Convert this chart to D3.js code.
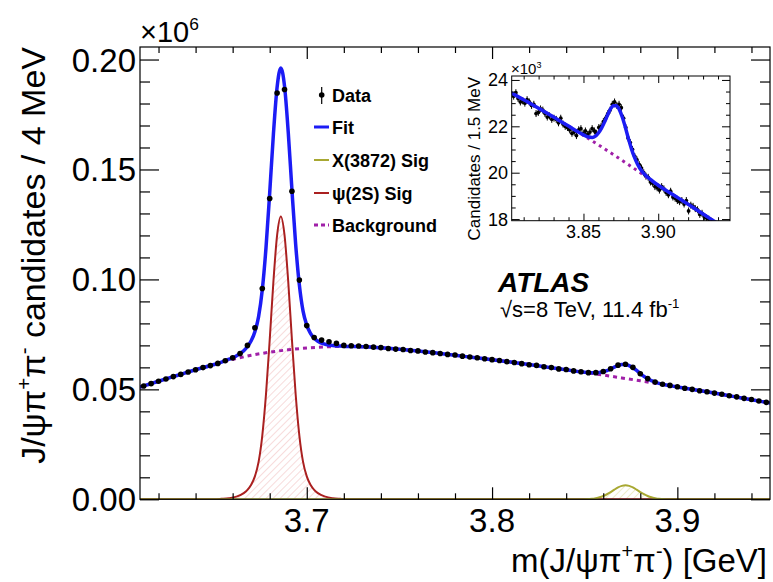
<!DOCTYPE html>
<html>
<head>
<meta charset="utf-8">
<script src="https://cdn.jsdelivr.net/npm/d3@7"></script>
<style>
body { margin: 0; background: #fff; }
text { font-family: "Liberation Sans", Arial, Helvetica, sans-serif; fill: #000; }
</style>
</head>
<body>
<svg id="chart" width="773" height="582"></svg>
<script>
// ---- main plot: J/psi pi pi mass, 4 MeV bins, counts in units of 10^6
var binStart = 3.612, binWidth = 0.004;
var dataVals = [
  0.0515,0.0526,0.0537,0.0547,0.0558,0.0568,0.0579,0.0589,0.0599,0.0608,
  0.0618,0.0630,0.0644,0.0663,0.0700,0.0780,0.0959,0.1368,0.1848,0.1864,
  0.1401,0.0997,0.0790,0.0736,0.0724,0.0716,0.0709,0.0700,0.0698,0.0697,
  0.0695,0.0692,0.0690,0.0686,0.0683,0.0681,0.0677,0.0675,0.0670,0.0667,
  0.0663,0.0659,0.0656,0.0651,0.0647,0.0644,0.0639,0.0635,0.0631,0.0626,
  0.0622,0.0617,0.0612,0.0609,0.0603,0.0599,0.0593,0.0590,0.0584,0.0580,
  0.0576,0.0576,0.0581,0.0594,0.0610,0.0614,0.0600,0.0571,0.0549,0.0533,
  0.0523,0.0518,0.0512,0.0505,0.0500,0.0494,0.0489,0.0483,0.0478,0.0471,
  0.0466,0.0459,0.0454,0.0447,0.0441
];
var fitX = [3.61,3.62,3.63,3.64,3.65,3.654,3.658,3.662,3.666,
  3.668,3.670,3.672,3.674,3.676,3.678,3.680,3.682,3.684,3.686,3.688,3.690,3.692,3.694,3.696,3.698,3.700,3.702,3.704,3.706,
  3.710,3.714,3.718,3.722,
  3.73,3.74,3.75,3.76,3.77,3.78,3.79,3.80,3.81,3.82,3.83,3.84,
  3.848,3.852,
  3.854,3.856,3.858,3.860,3.862,3.864,3.866,3.868,3.870,3.872,3.874,3.876,3.878,3.880,3.882,3.884,3.886,3.888,3.890,3.892,
  3.896,3.90,3.91,3.92,3.93,3.94,3.95];
var fitY = [0.0510,0.0537,0.0563,0.0589,0.0613,0.0624,0.0637,0.0652,0.0676,
  0.0695,0.0721,0.0762,0.0831,0.0953,0.1144,0.1394,0.1661,0.1875,0.1962,0.1879,0.1670,0.1407,0.1161,0.0975,0.0856,0.0792,0.0755,0.0733,0.0719,
  0.0705,0.0699,0.0697,0.0695,
  0.0694,0.0689,0.0682,0.0674,0.0665,0.0655,0.0645,0.0635,0.0624,0.0613,0.0601,0.0589,
  0.0579,0.0576,
  0.0575,0.0575,0.0577,0.0580,0.0585,0.0593,0.0601,0.0609,0.0613,0.0613,0.0608,0.0598,0.0586,0.0572,0.0559,0.0548,0.0540,0.0533,0.0527,0.0523,
  0.0517,0.0511,0.0497,0.0483,0.0468,0.0453,0.0438];
var bgX = [3.61,3.62,3.63,3.64,3.65,3.66,3.67,3.68,3.69,3.70,3.71,3.72,3.73,3.74,3.75,3.76,3.77,3.78,
  3.79,3.80,3.81,3.82,3.83,3.84,3.85,3.86,3.87,3.88,3.89,3.90,3.91,3.92,3.93,3.94,3.95];
var bgY = [0.0510,0.0537,0.0563,0.0589,0.0613,0.0636,0.0655,0.0669,0.0680,0.0688,0.0693,0.0695,0.0694,0.0689,0.0682,0.0674,0.0665,0.0655,
  0.0645,0.0635,0.0624,0.0613,0.0601,0.0589,0.0577,0.0565,0.0552,0.0539,0.0525,0.0511,0.0497,0.0483,0.0468,0.0453,0.0438];
var psiX = [3.61,3.650,3.654,3.658,3.662,3.666,
  3.668,3.670,3.672,3.674,3.676,3.678,3.680,3.682,3.684,3.686,3.688,3.690,3.692,3.694,3.696,3.698,3.700,3.702,3.704,3.706,
  3.710,3.714,3.718,3.722,3.95];
var psiY = [0,0.0000,0.0002,0.0005,0.0012,0.0028,
  0.0043,0.0066,0.0104,0.0170,0.0290,0.0478,0.0725,0.0990,0.1201,0.1286,0.1201,0.0990,0.0725,0.0478,0.0290,0.0170,0.0104,0.0066,0.0043,0.0028,
  0.0012,0.0005,0.0002,0.0000,0];
var x3872X = [3.61,3.848,3.852,
  3.854,3.856,3.858,3.860,3.862,3.864,3.866,3.868,3.870,3.872,3.874,3.876,3.878,3.880,3.882,3.884,3.886,3.888,3.890,3.892,
  3.896,3.95];
var x3872Y = [0,0.0000,0.0001,
  0.0002,0.0005,0.0009,0.0015,0.0023,0.0033,0.0044,0.0054,0.0061,0.0064,0.0061,0.0054,0.0044,0.0033,0.0023,0.0015,0.0009,0.0005,0.0002,0.0001,
  0.0000,0];

var xTickVals = [3.7, 3.8, 3.9], xTickLabels = ["3.7", "3.8", "3.9"];
var yTickVals = [0, 0.05, 0.10, 0.15, 0.20], yTickLabels = ["0.00", "0.05", "0.10", "0.15", "0.20"];
var legendLabels = ["Data", "Fit", "X(3872) Sig", "\u03c8(2S) Sig", "Background"];

// ---- inset: 1.5 MeV bins, counts in units of 10^3
var insBinStart = 3.8033, insBinWidth = 0.0015, insErr = 0.15;
var insVals = [
  23.30,23.45,23.20,23.05,23.10,23.00,23.15,23.05,22.90,22.95,
  22.55,22.60,22.75,22.70,22.55,22.40,22.45,22.30,22.35,22.30,
  22.15,22.35,22.10,22.00,21.95,21.85,21.70,21.75,21.60,21.85,
  21.90,21.70,21.80,21.65,21.75,21.90,21.80,21.70,21.95,22.00,
  22.20,22.35,22.55,22.70,22.95,23.05,22.90,22.95,22.80,22.35,
  21.95,21.50,21.30,21.00,20.70,20.55,20.35,20.20,20.00,19.85,
  19.80,19.60,19.55,19.40,19.35,19.25,19.40,19.30,19.15,19.05,
  19.20,18.95,18.90,18.80,18.75,18.80,18.65,18.80,18.35,18.60,
  18.55,18.45,18.40,18.20,18.25,18.10,18.05,18.00
];
var insFitX = [3.80,3.81,3.82,3.83,3.84,3.848,3.852,3.856,
  3.858,3.860,3.862,3.864,3.866,3.868,3.870,3.872,3.874,3.876,3.878,3.880,3.882,3.884,3.886,3.888,3.890,3.892,
  3.896,3.90,3.91,3.92,3.93,3.94,3.95];
var insFitY = [23.50,23.15,22.78,22.40,22.01,21.70,21.57,21.52,
  21.58,21.71,21.91,22.17,22.47,22.74,22.89,22.89,22.72,22.39,21.96,21.49,21.05,20.68,20.39,20.16,19.99,19.86,
  19.65,19.46,19.05,18.64,18.22,17.80,17.38];
var insBgX = [3.80,3.81,3.82,3.83,3.84,3.85,3.86,3.87,3.88,3.89,3.90,3.91,3.92,3.93,3.94,3.95];
var insBgY = [23.50,23.15,22.78,22.40,22.01,21.61,21.20,20.78,20.35,19.91,19.46,19.05,18.64,18.22,17.80,17.38];
var insXTickVals = [3.85, 3.90], insXTickLabels = ["3.85", "3.90"];
var insYTickVals = [18, 20, 22, 24], insYTickLabels = ["18", "20", "22", "24"];

var cBlue = "#1c1cf5", cOlive = "#a8a832", cRed = "#aa2020", cMag = "#a020a8";

var svg = d3.select("#chart");
var defs = svg.append("defs");

var x = d3.scaleLinear().domain([3.61, 3.95]).range([140, 770]);
var y = d3.scaleLinear().domain([0, 0.2057]).range([499.3, 47]);

function hatch(id, color) {
  var p = defs.append("pattern").attr("id", id).attr("patternUnits", "userSpaceOnUse")
    .attr("width", 5).attr("height", 5).attr("patternTransform", "rotate(45)");
  p.append("line").attr("x1", 0).attr("y1", 0).attr("x2", 0).attr("y2", 5)
    .attr("stroke", color).attr("stroke-width", 1);
}
hatch("hPsi", "#f0b8b8");
hatch("hX", "#dcdc98");

defs.append("clipPath").attr("id", "clipMain").append("rect")
  .attr("x", 140).attr("y", 47).attr("width", 630).attr("height", 452.3);

function pairs(xs, ys) { return xs.map(function(v, i) { return [v, ys[i]]; }); }

function richText(sel, parts, size) {
  var shift = 0;
  parts.forEach(function(p) {
    var target = p[1] ? -size * 0.42 : 0;
    var t = sel.append("tspan").text(p[0]).attr("dy", target - shift);
    if (p[1]) t.style("font-size", (size * 0.6) + "px");
    shift = target;
  });
}

// ---- main plot
var gm = svg.append("g").attr("clip-path", "url(#clipMain)");

var area = function(sx, sy) {
  return d3.area().x(function(d) { return sx(d[0]); }).y0(sy.range()[0])
    .y1(function(d) { return sy(d[1]); }).curve(d3.curveMonotoneX);
};
var line = function(sx, sy) {
  return d3.line().x(function(d) { return sx(d[0]); })
    .y(function(d) { return sy(d[1]); }).curve(d3.curveMonotoneX);
};

gm.append("path").attr("d", area(x, y)(pairs(psiX, psiY))).attr("fill", "url(#hPsi)");
gm.append("path").attr("d", area(x, y)(pairs(x3872X, x3872Y))).attr("fill", "url(#hX)");

gm.append("path").attr("d", line(x, y)(pairs(bgX, bgY))).attr("fill", "none")
  .attr("stroke", cMag).attr("stroke-width", 3).attr("stroke-dasharray", "4,4");
gm.append("path").attr("d", line(x, y)(pairs(psiX, psiY))).attr("fill", "none")
  .attr("stroke", cRed).attr("stroke-width", 2);
gm.append("path").attr("d", line(x, y)(pairs(x3872X, x3872Y))).attr("fill", "none")
  .attr("stroke", cOlive).attr("stroke-width", 2);
gm.append("path").attr("d", line(x, y)(pairs(fitX, fitY))).attr("fill", "none")
  .attr("stroke", cBlue).attr("stroke-width", 3.5);

gm.selectAll("circle.pt").data(dataVals).enter().append("circle").attr("class", "pt")
  .attr("cx", function(d, i) { return x(binStart + i * binWidth); })
  .attr("cy", function(d) { return y(d); })
  .attr("r", 2.8).attr("fill", "#000");

// frame and ticks
svg.append("rect").attr("x", 140).attr("y", 47).attr("width", 630).attr("height", 452.3)
  .attr("fill", "none").attr("stroke", "#000").attr("stroke-width", 1.2);

var xMinor = d3.range(3.62, 3.95, 0.02).filter(function(v) { return Math.abs(v * 10 - Math.round(v * 10)) > 1e-6; });
var yMinor = d3.range(0.01, 0.205, 0.01).filter(function(v) { return Math.abs(v * 20 - Math.round(v * 20)) > 1e-6; });

function tickGroup(axis, tr, vals, len) {
  svg.append("g").attr("transform", tr)
    .call(axis.tickValues(vals).tickSize(len).tickFormat(""))
    .call(function(g) { g.select(".domain").remove(); g.selectAll("line").attr("stroke-width", 1.2); });
}
tickGroup(d3.axisBottom(x), "translate(0,499.3)", xTickVals, -12);
tickGroup(d3.axisBottom(x), "translate(0,499.3)", xMinor, -6);
tickGroup(d3.axisTop(x), "translate(0,47)", xTickVals, -12);
tickGroup(d3.axisTop(x), "translate(0,47)", xMinor, -6);
tickGroup(d3.axisLeft(y), "translate(140,0)", yTickVals, -19);
tickGroup(d3.axisLeft(y), "translate(140,0)", yMinor, -10);
tickGroup(d3.axisRight(y), "translate(770,0)", yTickVals, -19);
tickGroup(d3.axisRight(y), "translate(770,0)", yMinor, -10);

svg.selectAll("text.xl").data(xTickVals).enter().append("text").attr("class", "xl")
  .attr("x", function(d) { return x(d); }).attr("y", 532).attr("text-anchor", "middle")
  .style("font-size", "33px").text(function(d, i) { return xTickLabels[i]; });
svg.selectAll("text.yl").data(yTickVals).enter().append("text").attr("class", "yl")
  .attr("x", 136).attr("y", function(d) { return y(d) + 12; }).attr("text-anchor", "end")
  .style("font-size", "33px").text(function(d, i) { return yTickLabels[i]; });

var ex = svg.append("text").attr("x", 140).attr("y", 42).style("font-size", "29px");
richText(ex, [["\u00d710", 0], ["6", 1]], 29);

var xt = svg.append("text").attr("x", 767).attr("y", 572).attr("text-anchor", "end").style("font-size", "33px");
richText(xt, [["m(J/\u03c8\u03c0", 0], ["+", 1], ["\u03c0", 0], ["-", 1], [") [GeV]", 0]], 33);

var yt = svg.append("text").attr("transform", "translate(45,47) rotate(-90)")
  .attr("text-anchor", "end").style("font-size", "34px");
richText(yt, [["J/\u03c8\u03c0", 0], ["+", 1], ["\u03c0", 0], ["-", 1], [" candidates / 4 MeV", 0]], 34);

// legend
var lg = svg.append("g");
var legY = [95, 127, 160, 193, 225];
lg.append("line").attr("x1", 321.7).attr("x2", 321.7).attr("y1", 87).attr("y2", 104).attr("stroke", "#000").attr("stroke-width", 1.2);
lg.append("circle").attr("cx", 321.7).attr("cy", legY[0]).attr("r", 2.8).attr("fill", "#000");
var legStyles = [null, [cBlue, 3, null], [cOlive, 2, null], [cRed, 2, null], [cMag, 3, "4,3"]];
legStyles.forEach(function(s, i) {
  if (!s) return;
  lg.append("line").attr("x1", 314).attr("x2", 329).attr("y1", legY[i]).attr("y2", legY[i])
    .attr("stroke", s[0]).attr("stroke-width", s[1]).attr("stroke-dasharray", s[2]);
});
lg.selectAll("text").data(legendLabels).enter().append("text")
  .attr("x", 332).attr("y", function(d, i) { return legY[i] + 6.5; })
  .style("font-size", "18px").style("font-weight", "bold").text(function(d) { return d; });

// ATLAS label
svg.append("text").attr("x", 498).attr("y", 292).style("font-size", "28px")
  .style("font-weight", "bold").style("font-style", "italic").text("ATLAS");
var en = svg.append("text").attr("x", 500).attr("y", 317).style("font-size", "22px");
richText(en, [["\u221as=8 TeV, 11.4 fb", 0], ["-1", 1]], 22);

// ---- inset
var xi = d3.scaleLinear().domain([3.802, 3.948]).range([511.7, 730]);
var yi = d3.scaleLinear().domain([17.93, 24.17]).range([220.7, 76]);

defs.append("clipPath").attr("id", "clipIns").append("rect")
  .attr("x", 511.7).attr("y", 76).attr("width", 218.3).attr("height", 144.7);
svg.append("rect").attr("x", 511.7).attr("y", 76).attr("width", 218.3).attr("height", 144.7).attr("fill", "#fff");

var gi = svg.append("g").attr("clip-path", "url(#clipIns)");
var ip = gi.selectAll("g.ip").data(insVals).enter().append("g").attr("class", "ip");
ip.append("line")
  .attr("x1", function(d, i) { return xi(insBinStart + i * insBinWidth); })
  .attr("x2", function(d, i) { return xi(insBinStart + i * insBinWidth); })
  .attr("y1", function(d) { return yi(d - insErr); })
  .attr("y2", function(d) { return yi(d + insErr); })
  .attr("stroke", "#000").attr("stroke-width", 1);
ip.append("circle")
  .attr("cx", function(d, i) { return xi(insBinStart + i * insBinWidth); })
  .attr("cy", function(d) { return yi(d); })
  .attr("r", 1.9).attr("fill", "#000");
gi.append("path").attr("d", line(xi, yi)(pairs(insBgX, insBgY))).attr("fill", "none")
  .attr("stroke", cMag).attr("stroke-width", 3).attr("stroke-dasharray", "3,4");
gi.append("path").attr("d", line(xi, yi)(pairs(insFitX, insFitY))).attr("fill", "none")
  .attr("stroke", cBlue).attr("stroke-width", 3.5);

svg.append("rect").attr("x", 511.7).attr("y", 76).attr("width", 218.3).attr("height", 144.7)
  .attr("fill", "none").attr("stroke", "#000").attr("stroke-width", 1);

var insXMinor = d3.range(3.81, 3.945, 0.01).filter(function(v) { return Math.abs(v * 20 - Math.round(v * 20)) > 1e-6; });
var insYMinor = d3.range(18, 24.1, 0.5).filter(function(v) { return Math.abs(v / 2 - Math.round(v / 2)) > 1e-6; });
function insTicks(axis, tr, vals, len) {
  svg.append("g").attr("transform", tr)
    .call(axis.tickValues(vals).tickSize(len).tickFormat(""))
    .call(function(g) { g.select(".domain").remove(); });
}
insTicks(d3.axisBottom(xi), "translate(0,220.7)", insXTickVals, -7);
insTicks(d3.axisBottom(xi), "translate(0,220.7)", insXMinor, -3.5);
insTicks(d3.axisTop(xi), "translate(0,76)", insXTickVals, -7);
insTicks(d3.axisTop(xi), "translate(0,76)", insXMinor, -3.5);
insTicks(d3.axisLeft(yi), "translate(511.7,0)", insYTickVals, -8);
insTicks(d3.axisLeft(yi), "translate(511.7,0)", insYMinor, -4);
insTicks(d3.axisRight(yi), "translate(730,0)", insYTickVals, -8);
insTicks(d3.axisRight(yi), "translate(730,0)", insYMinor, -4);

svg.selectAll("text.ixl").data(insXTickVals).enter().append("text").attr("class", "ixl")
  .attr("x", function(d) { return xi(d); }).attr("y", 238).attr("text-anchor", "middle")
  .style("font-size", "18px").text(function(d, i) { return insXTickLabels[i]; });
svg.selectAll("text.iyl").data(insYTickVals).enter().append("text").attr("class", "iyl")
  .attr("x", 508).attr("y", function(d) { return yi(d) + 6.5; }).attr("text-anchor", "end")
  .style("font-size", "18px").text(function(d, i) { return insYTickLabels[i]; });

var iex = svg.append("text").attr("x", 511).attr("y", 74).style("font-size", "15px");
richText(iex, [["\u00d710", 0], ["3", 1]], 15);

svg.append("text").attr("transform", "translate(480,77) rotate(-90)")
  .attr("text-anchor", "end").style("font-size", "17px").text("Candidates / 1.5 MeV");
</script>
</body>
</html>
